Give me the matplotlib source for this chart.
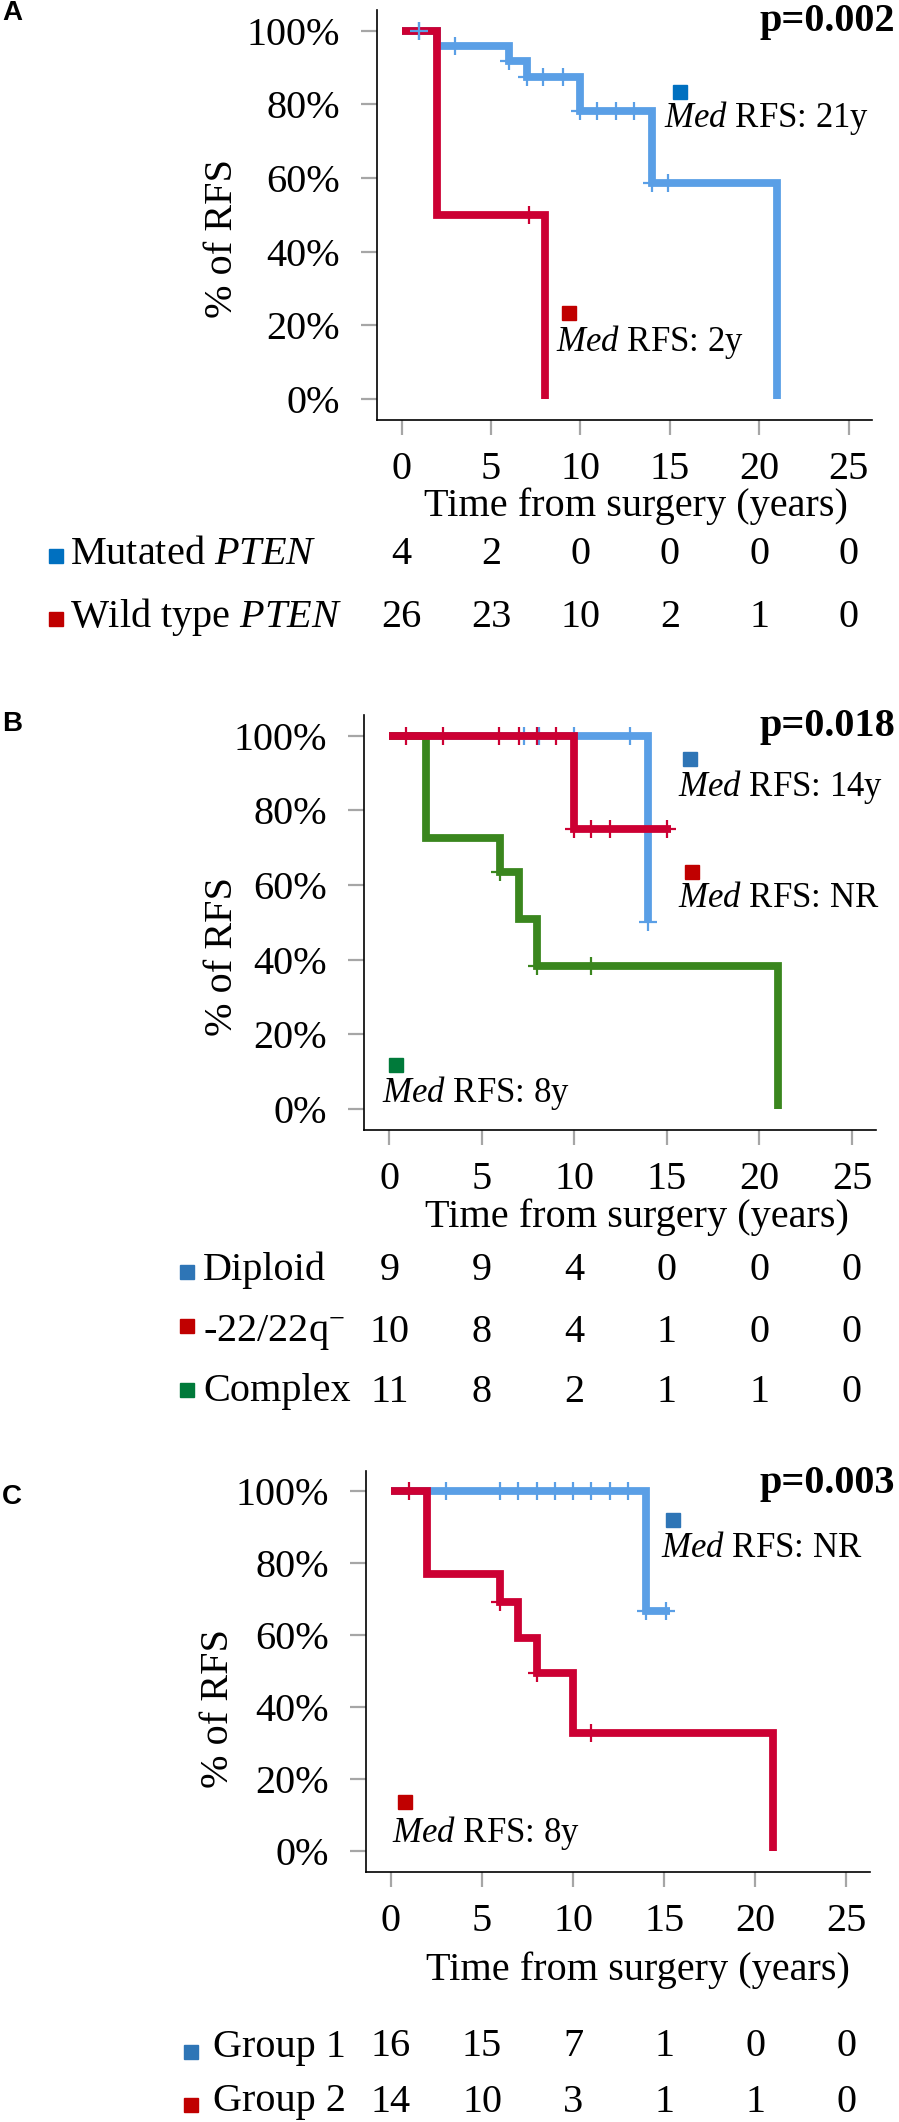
import matplotlib
matplotlib.use("Agg")
import matplotlib.pyplot as plt
from matplotlib.lines import Line2D
import numpy as np

plt.rcParams['font.family'] = ['Liberation Serif', 'DejaVu Serif']
plt.rcParams['mathtext.fontset'] = 'custom'
plt.rcParams['mathtext.rm'] = 'Liberation Serif'
plt.rcParams['mathtext.it'] = 'Liberation Serif:italic'
plt.rcParams['mathtext.bf'] = 'Liberation Serif:bold'

W, H = 899, 2122
BLUE = '#5A9FE6'
RED = '#CC0033'
GREEN = '#3A861E'
SQ_BLUE_A = '#0070C0'
SQ_BLUE = '#2E75B6'
SQ_RED = '#C00000'
SQ_GREEN = '#007A3A'

x_ticks = [0, 5, 10, 15, 20, 25]
y_ticks = [0, 20, 40, 60, 80, 100]

# panel A: PTEN
a_mut_t = [0, 2, 6, 7, 10, 14, 21]
a_mut_s = [100, 95.8, 91.8, 87.3, 78.2, 58.7, 0]
a_mut_cens = [1.0, 3.0, 6.0, 7.0, 7.9, 9.0, 10.0, 10.9, 12.0, 13.0, 14.0, 14.9]
a_wt_t = [0, 2, 8]
a_wt_s = [100, 50, 0]
a_wt_cens = [7.1]
a_risk_mut = [4, 2, 0, 0, 0, 0]
a_risk_wt = [26, 23, 10, 2, 1, 0]

# panel B: karyotype
b_dip_t = [0, 14]
b_dip_s = [100, 50]
b_dip_end = 14
b_dip_cens = [7.3, 8.1, 10.0, 13.0, 14.0]
b_del_t = [0, 10]
b_del_s = [100, 75]
b_del_end = 15.2
b_del_cens = [0.9, 2.9, 5.9, 7.0, 8.0, 9.0, 10.0, 10.9, 11.9, 15.0]
b_cpx_t = [0, 2, 6, 7, 8, 21]
b_cpx_s = [100, 72.7, 63.6, 50.9, 38.2, 0]
b_cpx_cens = [6.0, 8.0, 10.9]
b_risk_dip = [9, 9, 4, 0, 0, 0]
b_risk_del = [10, 8, 4, 1, 0, 0]
b_risk_cpx = [11, 8, 2, 1, 1, 0]

# panel C: groups
c_g1_t = [0, 14]
c_g1_s = [100, 66.7]
c_g1_end = 15.3
c_g1_cens = [3, 6, 7, 8, 9, 10, 11, 12, 13, 14, 15.1]
c_g2_t = [0, 2, 6, 7, 8, 10, 21]
c_g2_s = [100, 76.9, 69.2, 59.3, 49.4, 33.0, 0]
c_g2_cens = [1.0, 6.0, 8.0, 11.0]
c_risk_g1 = [16, 15, 7, 1, 0, 0]
c_risk_g2 = [14, 10, 3, 1, 1, 0]

FS = 29
FS_ANN = 25


def fx(px):
    return px / W


def fy(py):
    return 1 - py / H


def km(ax, t, s, end, cens, color, z):
    tt = list(t) + [end]
    ss = list(s) + [s[-1]]
    ax.step(tt, ss, where='post', color=color, lw=5.6, zorder=z,
            solid_joinstyle='miter', solid_capstyle='butt')
    idx = np.searchsorted(t, cens, side='right') - 1
    lev = np.array(s)[idx]
    ax.plot(cens, lev, ls='none', marker='+', ms=13, mew=1.6,
            color=color, zorder=z + 0.5)


def med(ax, sq_xy, txt_xy, label, color):
    ax.plot([sq_xy[0]], [sq_xy[1]], marker='s', ms=10, color=color,
            ls='none', zorder=6, clip_on=False)
    ax.text(txt_xy[0], txt_xy[1], r'$\mathit{Med}$ RFS: ' + label,
            fontsize=FS_ANN, ha='left', va='center', zorder=6)


def setup(ax, xlab_xy, ylab_xy, p_y, p_txt):
    ax.set_xlim(-1.37, 26.3)
    ax.set_ylim(-5.7, 105.6)
    ax.set_xticks(x_ticks)
    ax.set_yticks(y_ticks)
    ax.set_yticklabels([f'{v}%' for v in y_ticks])
    for s in ['top', 'right']:
        ax.spines[s].set_visible(False)
    for s in ['left', 'bottom']:
        ax.spines[s].set_linewidth(1.2)
    ax.tick_params(axis='y', length=11.5, width=1.6, color='#A6A6A6',
                   pad=15, labelsize=FS)
    ax.tick_params(axis='x', length=11, width=1.6, color='#A6A6A6',
                   pad=11, labelsize=FS)
    ax.set_xlabel('Time from surgery (years)', fontsize=FS)
    ax.xaxis.set_label_coords(*xlab_xy)
    fig.text(fx(ylab_xy[0]), fy(ylab_xy[1]), '% of RFS', rotation=90,
             fontsize=FS, ha='center', va='center')
    fig.text(fx(895), fy(p_y), p_txt, fontsize=FS, fontweight='bold',
             ha='right', va='center')


def risk_row(ax, py, sq_x, sq_y, txt_x, label, vals, color):
    fig.add_artist(Line2D([fx(sq_x)], [fy(sq_y)], marker='s', ms=10.5,
                          color=color, ls='none',
                          transform=fig.transFigure))
    fig.text(fx(txt_x), fy(py), label, fontsize=FS, ha='left', va='center')
    tr = matplotlib.transforms.blended_transform_factory(ax.transData,
                                                         fig.transFigure)
    for xv, v in zip(x_ticks, vals):
        ax.text(xv, fy(py), str(v), fontsize=FS, ha='center', va='center',
                transform=tr, clip_on=False)


fig = plt.figure(figsize=(W / 100, H / 100), dpi=100)

# ---- A
axA = fig.add_axes([fx(377), fy(420), fx(872 - 377), (420 - 10) / H])
km(axA, a_mut_t, a_mut_s, a_mut_t[-1], a_mut_cens, BLUE, 2)
km(axA, a_wt_t, a_wt_s, a_wt_t[-1], a_wt_cens, RED, 3)
axA.plot([a_mut_cens[0]], [100], ls='none', marker='+', ms=13, mew=1.6,
         color=BLUE, zorder=4)
med(axA, (15.56, 83.4), (14.67, 76.3), '21y', SQ_BLUE_A)
med(axA, (9.37, 23.4), (8.64, 15.5), '2y', SQ_RED)
setup(axA, ((636 - 377) / 495, (420 - 487) / 410), (222, 239), 22, 'p=0.002')
fig.text(fx(2), fy(13), 'A', fontsize=20, fontweight='bold',
         family='Liberation Sans', ha='left', va='center')
risk_row(axA, 554, 56, 556, 70, r'Mutated $\mathit{PTEN}$', a_risk_mut, SQ_BLUE_A)
risk_row(axA, 617, 56, 619, 70, r'Wild type $\mathit{PTEN}$', a_risk_wt, SQ_RED)

# ---- B
axB = fig.add_axes([fx(364), fy(1130), fx(876 - 364), (1130 - 715) / H])
km(axB, b_dip_t, b_dip_s, b_dip_end, b_dip_cens, BLUE, 2)
km(axB, b_cpx_t, b_cpx_s, b_cpx_t[-1], b_cpx_cens, GREEN, 3)
km(axB, b_del_t, b_del_s, b_del_end, b_del_cens, RED, 4)
med(axB, (16.25, 93.7), (15.6, 86.4), '14y', SQ_BLUE)
med(axB, (16.36, 63.5), (15.6, 56.5), 'NR', SQ_RED)
med(axB, (0.38, 11.8), (-0.38, 4.3), '8y', SQ_GREEN)
setup(axB, ((637 - 364) / 512, (1130 - 1198) / 415), (222, 957), 727, 'p=0.018')
fig.text(fx(2), fy(724), 'B', fontsize=20, fontweight='bold',
         family='Liberation Sans', ha='left', va='center')
risk_row(axB, 1270, 187, 1272, 203, 'Diploid', b_risk_dip, SQ_BLUE)
risk_row(axB, 1332, 187, 1326, 203, r'-22/22q$^{-}$', b_risk_del, SQ_RED)
risk_row(axB, 1392, 187, 1390, 203, 'Complex', b_risk_cpx, SQ_GREEN)

# ---- C
axC = fig.add_axes([fx(366), fy(1872), fx(870 - 366), (1872 - 1471) / H])
km(axC, c_g1_t, c_g1_s, c_g1_end, c_g1_cens, BLUE, 2)
km(axC, c_g2_t, c_g2_s, c_g2_t[-1], c_g2_cens, RED, 3)
med(axC, (15.47, 91.9), (14.8, 84.1), 'NR', SQ_BLUE)
med(axC, (0.77, 13.7), (0.05, 5.1), '8y', SQ_RED)
setup(axC, ((638 - 366) / 504, (1872 - 1951) / 401), (219, 1709), 1483, 'p=0.003')
fig.text(fx(2), fy(1497), 'C', fontsize=20, fontweight='bold',
         family='Liberation Sans', ha='left', va='center')
risk_row(axC, 2047, 191, 2052, 213, 'Group 1', c_risk_g1, SQ_BLUE)
risk_row(axC, 2102, 191, 2105, 213, 'Group 2', c_risk_g2, SQ_RED)

fig.savefig('out.png', dpi=100)
